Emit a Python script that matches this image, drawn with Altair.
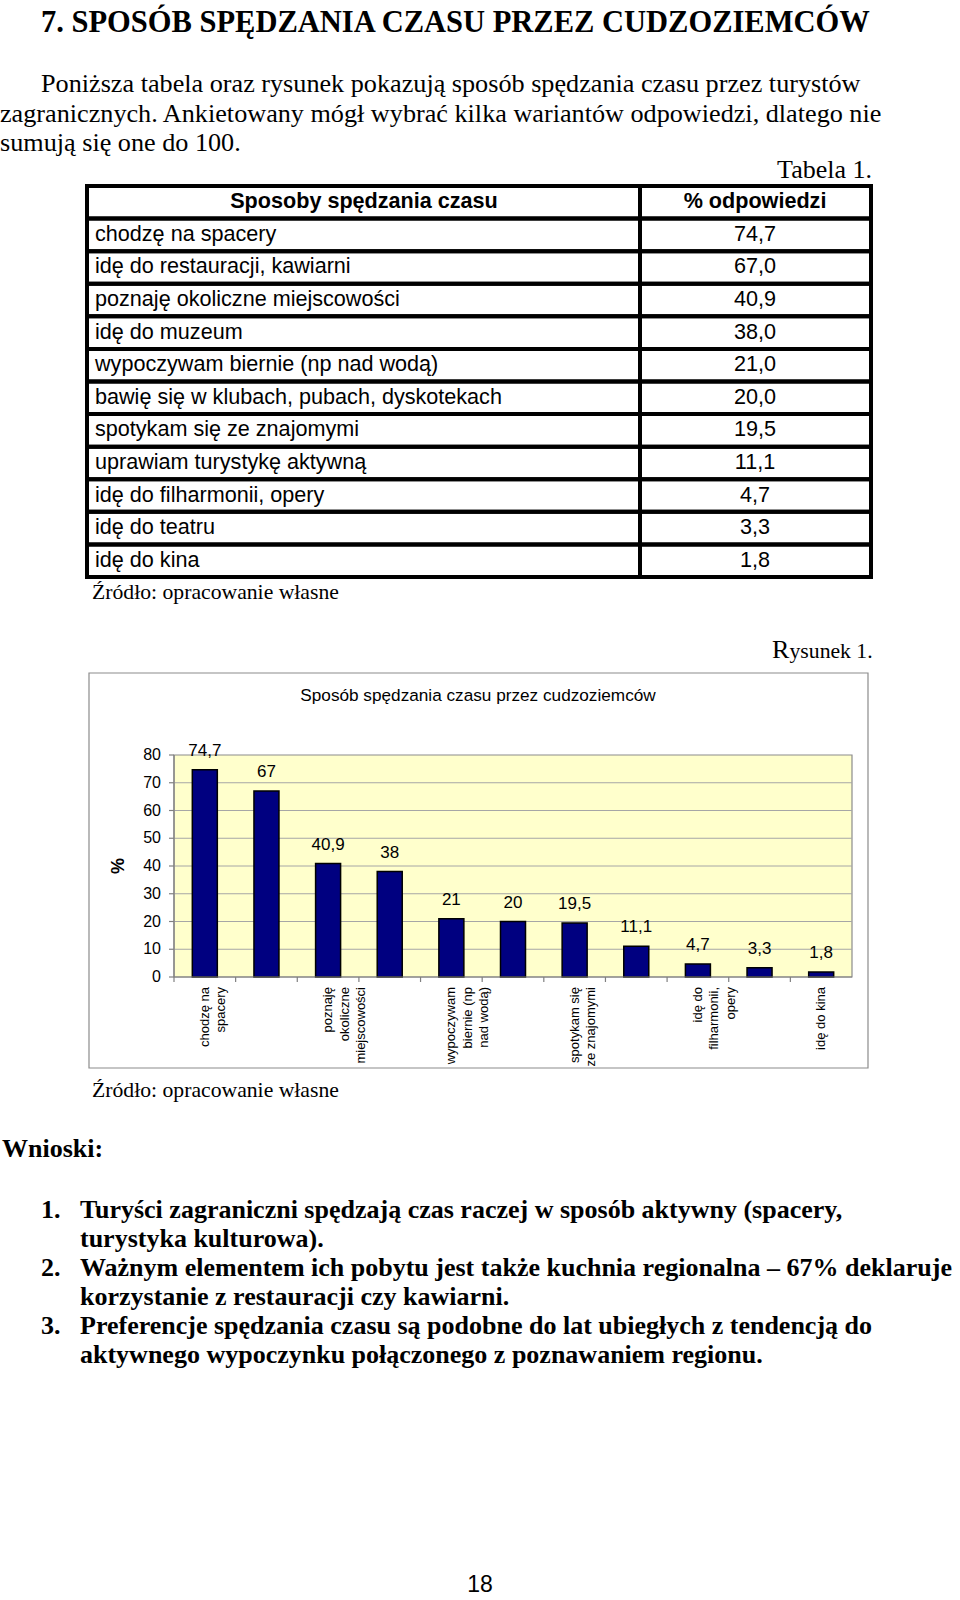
import altair as alt
import pandas as pd

SERIF = "Liberation Serif"
SANS = "Liberation Sans"

# ---------------- data ----------------
heading = "7. SPOSÓB SPĘDZANIA CZASU PRZEZ CUDZOZIEMCÓW"
intro_lines = [
    "Poniższa tabela oraz rysunek pokazują sposób spędzania czasu przez turystów",
    "zagranicznych. Ankietowany mógł wybrać kilka wariantów odpowiedzi, dlatego nie",
    "sumują się one do 100.",
]
table_caption = "Tabela 1."
table_header = ["Sposoby spędzania czasu", "% odpowiedzi"]
activities = [
    "chodzę na spacery",
    "idę do restauracji, kawiarni",
    "poznaję okoliczne miejscowości",
    "idę do muzeum",
    "wypoczywam biernie (np nad wodą)",
    "bawię się w klubach, pubach, dyskotekach",
    "spotykam się ze znajomymi",
    "uprawiam turystykę aktywną",
    "idę do filharmonii, opery",
    "idę do teatru",
    "idę do kina",
]
table_values = ["74,7", "67,0", "40,9", "38,0", "21,0", "20,0", "19,5", "11,1", "4,7", "3,3", "1,8"]
percent = [74.7, 67.0, 40.9, 38.0, 21.0, 20.0, 19.5, 11.1, 4.7, 3.3, 1.8]
bar_labels = ["74,7", "67", "40,9", "38", "21", "20", "19,5", "11,1", "4,7", "3,3", "1,8"]
axis_labels = [
    "chodzę na\nspacery", "",
    "poznaję\nokoliczne\nmiejscowości", "",
    "wypoczywam\nbiernie (np\nnad wodą)", "",
    "spotykam się\nze znajomymi", "",
    "idę do\nfilharmonii,\nopery", "",
    "idę do kina",
]
y_ticks = [0, 10, 20, 30, 40, 50, 60, 70, 80]
y_tick_labels = ["0", "10", "20", "30", "40", "50", "60", "70", "80"]
source_note = "Źródło: opracowanie własne"
figure_caption_initial = "R"
figure_caption_rest = "ysunek 1."
chart_title = "Sposób spędzania czasu przez cudzoziemców"
y_title = "%"
conclusions_heading = "Wnioski:"
conclusion_numbers = ["1.", "2.", "3."]
conclusion_lines = [
    ["Turyści zagraniczni spędzają czas raczej w sposób aktywny (spacery,",
     "turystyka kulturowa)."],
    ["Ważnym elementem ich pobytu jest także kuchnia regionalna – 67% deklaruje",
     "korzystanie z restauracji czy kawiarni."],
    ["Preferencje spędzania czasu są podobne do lat ubiegłych z tendencją do",
     "aktywnego wypoczynku połączonego z poznawaniem regionu."],
]
page_number = "18"


# ---------------- helpers ----------------
def txt(t, x, y, size, font=SERIF, weight="normal", align="left",
        baseline="alphabetic", angle=0, color="black"):
    return alt.Chart(alt.Data(values=[{"t": t}])).mark_text(
        font=font, fontSize=size, fontWeight=weight, align=align,
        baseline=baseline, angle=angle, color=color,
    ).encode(text="t:N", x=alt.value(x), y=alt.value(y))


layers = []

# background page
layers.append(
    alt.Chart(alt.Data(values=[{}])).mark_rect(fill="white").encode(
        x=alt.value(0), x2=alt.value(960), y=alt.value(0), y2=alt.value(1600))
)

# heading and intro
layers.append(txt(heading, 41, 32, 30.5, weight="bold"))
intro_x = [41, 0, 0]
intro_y = [92, 121.5, 151]
for line, xx, yy in zip(intro_lines, intro_x, intro_y):
    layers.append(txt(line, xx, yy, 26.2))
layers.append(txt(table_caption, 872, 178, 26, align="right"))

# ---------------- table ----------------
tbl = pd.DataFrame({
    "row": list(range(len(activities) + 1)),
    "label": [table_header[0]] + activities,
    "val": [table_header[1]] + table_values,
})
row_scale = alt.Scale(domain=list(range(len(activities) + 1)),
                      range=[186, 577], paddingInner=0, paddingOuter=0)
Yrow = alt.Y("row:O", scale=row_scale, axis=None)
base_t = alt.Chart(tbl)
cells_l = base_t.mark_rect(filled=False, stroke="black", strokeWidth=4).encode(
    y=Yrow, x=alt.value(87), x2=alt.value(640))
cells_r = base_t.mark_rect(filled=False, stroke="black", strokeWidth=4).encode(
    y=Yrow, x=alt.value(640), x2=alt.value(871))
hdr_l = base_t.transform_filter("datum.row == 0").mark_text(
    font=SANS, fontSize=21.6, fontWeight="bold", align="center", baseline="middle"
).encode(y=Yrow, x=alt.value(364), text="label:N")
hdr_r = base_t.transform_filter("datum.row == 0").mark_text(
    font=SANS, fontSize=21.6, fontWeight="bold", align="center", baseline="middle"
).encode(y=Yrow, x=alt.value(755), text="val:N")
body_l = base_t.transform_filter("datum.row > 0").mark_text(
    font=SANS, fontSize=21.6, align="left", baseline="middle"
).encode(y=Yrow, x=alt.value(95), text="label:N")
body_r = base_t.transform_filter("datum.row > 0").mark_text(
    font=SANS, fontSize=21.6, align="center", baseline="middle"
).encode(y=Yrow, x=alt.value(755), text="val:N")
layers.append(alt.layer(cells_l, cells_r, hdr_l, hdr_r, body_l, body_r))

layers.append(txt(source_note, 92, 599, 21.7))
layers.append(txt(figure_caption_initial, 772, 658, 26))
layers.append(txt(figure_caption_rest, 789.5, 658, 21.7))

# ---------------- chart ----------------
# outer frame
layers.append(
    alt.Chart(alt.Data(values=[{}])).mark_rect(fill="white", stroke="#8c8c8c", strokeWidth=1.2).encode(
        x=alt.value(89), x2=alt.value(868), y=alt.value(673), y2=alt.value(1068))
)
layers.append(txt(chart_title, 478, 701, 17.2, font=SANS, align="center"))

PX0, PX1, PY0, PY1 = 174, 852, 977, 755
cdf = pd.DataFrame({"cat": activities, "pct": percent, "lbl": bar_labels, "axis": axis_labels})
tdf = pd.DataFrame({"v": y_ticks, "vl": y_tick_labels})
xs = alt.Scale(domain=activities, range=[PX0, PX1], paddingInner=0, paddingOuter=0)
ys = alt.Scale(domain=[0, 80], range=[PY0, PY1], nice=False, zero=True)
X = alt.X("cat:N", scale=xs, axis=None, sort=None)
Yv = alt.Y("pct:Q", scale=ys, axis=None)
Yt = alt.Y("v:Q", scale=ys, axis=None)

plot_bg = alt.Chart(alt.Data(values=[{}])).mark_rect(fill="#FFFFCC", stroke="#8c8c8c", strokeWidth=1.2).encode(
    x=alt.value(PX0), x2=alt.value(PX1), y=alt.value(PY1), y2=alt.value(PY0))
grid = alt.Chart(tdf).transform_filter("datum.v > 0 && datum.v < 80").mark_rule(
    color="#a6a6a6", strokeWidth=1).encode(y=Yt, x=alt.value(PX0), x2=alt.value(PX1))
bars = alt.Chart(cdf).mark_bar(size=25, fill="#000080", stroke="black", strokeWidth=1.5).encode(
    x=X, y=Yv)
vals = alt.Chart(cdf).mark_text(font=SANS, fontSize=17, baseline="middle", dy=-19).encode(
    x=X, y=Yv, text="lbl:N")
yaxis = alt.Chart(alt.Data(values=[{}])).mark_rule(color="#808080", strokeWidth=1.2).encode(
    x=alt.value(PX0), y=alt.value(PY1), y2=alt.value(PY0))
xaxis = alt.Chart(alt.Data(values=[{}])).mark_rule(color="#808080", strokeWidth=1.2).encode(
    y=alt.value(PY0), x=alt.value(PX0), x2=alt.value(PX1))
yticks = alt.Chart(tdf).mark_rule(color="#808080", strokeWidth=1.2).encode(
    y=Yt, x=alt.value(PX0 - 5), x2=alt.value(PX0))
ylabels = alt.Chart(tdf).mark_text(font=SANS, fontSize=16, align="right", baseline="middle").encode(
    y=Yt, x=alt.value(161), text="vl:N")
xticks = alt.Chart(cdf).mark_rule(color="#808080", strokeWidth=1.2).encode(
    x=alt.X("cat:N", scale=xs, axis=None, sort=None, bandPosition=0),
    y=alt.value(PY0), y2=alt.value(PY0 + 5))
xlabels = alt.Chart(cdf).mark_text(font=SANS, fontSize=13, angle=270, align="right",
                                   baseline="middle", lineBreak="\n", lineHeight=16.5).encode(
    x=X, y=alt.value(987), text="axis:N")
layers.append(alt.layer(plot_bg, grid, bars, vals, yaxis, xaxis, yticks, ylabels, xticks, xlabels))
layers.append(txt(y_title, 119, 866, 18, font=SANS, weight="bold", align="center",
                  baseline="middle", angle=270))

layers.append(txt(source_note, 92, 1097, 21.7))

# ---------------- conclusions ----------------
layers.append(txt(conclusions_heading, 2, 1157, 26, weight="bold"))
line_y = 1218
for num, lines in zip(conclusion_numbers, conclusion_lines):
    layers.append(txt(num, 41, line_y, 26, weight="bold"))
    for ln in lines:
        layers.append(txt(ln, 80, line_y, 26, weight="bold"))
        line_y += 29
layers.append(txt(page_number, 480, 1592, 23, font=SANS, align="center"))

chart = alt.layer(*layers).resolve_scale(x="independent", y="independent").properties(
    width=960, height=1600, padding=0, autosize="none", background="white"
).configure_view(stroke=None)

chart.save("out.html", embed_options={"renderer": "svg", "actions": False})
